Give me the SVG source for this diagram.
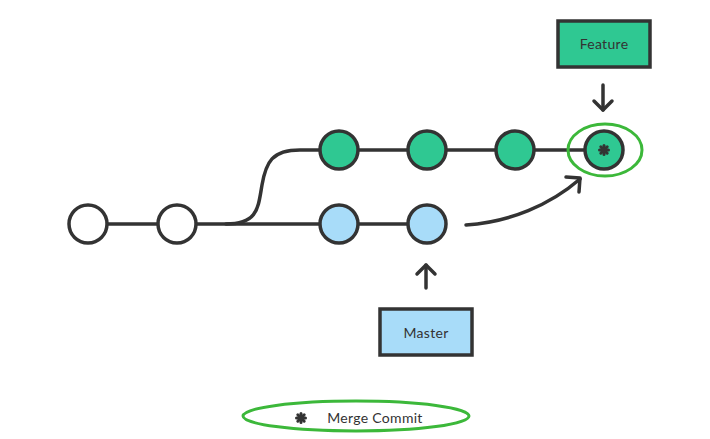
<svg xmlns="http://www.w3.org/2000/svg" width="710" height="439" viewBox="0 0 710 439">
  <style>
    .line { fill: none; stroke: #333; stroke-width: 3.5; stroke-linecap: round; stroke-linejoin: round; }
    .commit { stroke: #333; stroke-width: 3.5; }
    .base { fill: #fff; }
    .feat { fill: #2fc892; }
    .mast { fill: #a8dcf9; }
    .box { stroke: #333; stroke-width: 3.5; }
    .label { font-family: "Lato", "Liberation Sans", sans-serif; font-size: 14px; fill: #333; text-anchor: middle; letter-spacing: 0.3px; }
    .ring { fill: none; stroke: #3cb83a; stroke-width: 3; }
    .star line { stroke: #333; stroke-width: 3; stroke-linecap: round; }
  </style>
  <defs>
    <g id="asterisk" class="star">
      <line x1="-4.5" y1="0" x2="4.5" y2="0"/>
      <line x1="0" y1="-4.5" x2="0" y2="4.5"/>
      <line x1="-3.2" y1="-3.2" x2="3.2" y2="3.2"/>
      <line x1="-3.2" y1="3.2" x2="3.2" y2="-3.2"/>
      <circle r="3" fill="#333"/>
    </g>
  </defs>
  <rect width="710" height="439" fill="#fff"/>

  <g id="connectors">
    <!-- master line -->
    <path class="line" d="M88 224 H427"/>
    <!-- feature branch -->
    <path class="line" d="M226 224 C258 224 258 208 262 185 C266 162 272 150 300 150 H604"/>
    <!-- merge arrow -->
    <path class="line" d="M466 225 C510 222 550 205 580 179"/>
    <path class="line" d="M566 177 L580 178 L579 192"/>
    <!-- feature pointer -->
    <path class="line" d="M603 85 V110"/>
    <path class="line" d="M594 101 L603 110 L612 101"/>
    <!-- master pointer -->
    <path class="line" d="M426 288 V265"/>
    <path class="line" d="M417 274 L426 265 L435 274"/>
  </g>

  <g id="c1"><circle class="commit base" cx="88" cy="224" r="19"/></g>
  <g id="c2"><circle class="commit base" cx="177" cy="224" r="19"/></g>
  <g id="f1"><circle class="commit feat" cx="339" cy="150" r="19"/></g>
  <g id="f2"><circle class="commit feat" cx="427" cy="150" r="19"/></g>
  <g id="f3"><circle class="commit feat" cx="515" cy="150" r="19"/></g>
  <g id="m1"><circle class="commit mast" cx="339" cy="224" r="19"/></g>
  <g id="m2"><circle class="commit mast" cx="427" cy="224" r="19"/></g>
  <g id="merge">
    <circle class="commit feat" cx="604" cy="150" r="19"/>
    <use href="#asterisk" x="604" y="150"/>
    <ellipse class="ring" cx="605" cy="150" rx="37" ry="26"/>
  </g>

  <g id="feature">
    <rect class="box feat" x="558" y="21" width="92" height="46"/>
    <text class="label" x="604" y="49">Feature</text>
  </g>
  <g id="master">
    <rect class="box mast" x="380" y="309" width="92" height="46"/>
    <text class="label" x="426" y="338">Master</text>
  </g>

  <g id="legend">
    <ellipse class="ring" cx="356" cy="416" rx="113" ry="15"/>
    <use href="#asterisk" x="301" y="418"/>
    <text class="label" x="375" y="423">Merge Commit</text>
  </g>
</svg>
